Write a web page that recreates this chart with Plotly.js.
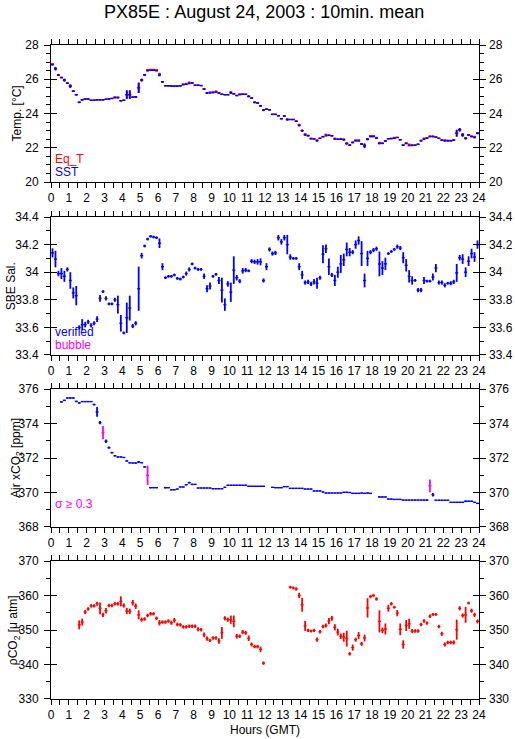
<!DOCTYPE html>
<html>
<head>
<meta charset="utf-8">
<script src="https://cdn.plot.ly/plotly-3.0.1.min.js"></script>
<style>html,body{margin:0;padding:0;background:#fff;}#chart{width:515px;height:739px;}</style>
</head>
<body>
<div id="chart"></div>
<script>
// 10-minute mean values, 144 slots per day (slot k covers k*10 .. k*10+10 min)
const sst = [
26.85,26.62,26.25,26.1,25.95,25.77, 25.6,25.3,25.1,24.65,24.8,24.85,
24.85,24.77,24.77,24.8,24.8,24.8, 24.83,24.85,24.88,24.92,24.92,24.75,
24.77,25.1,25.1,24.95,24.97,25.5, 25.95,26.25,26.5,26.52,26.52,26.5,
26.25,25.85,25.62,25.62,25.6,25.6, 25.6,25.62,25.68,25.7,25.75,25.78,
25.65,25.65,25.63,25.43,25.2,25.2, 25.22,25.25,25.2,25.12,25.1,25.1,
25.2,25.15,25.05,25.1,25.12,25.12, 25.0,24.9,24.65,24.62,24.45,24.2,
24.25,24.22,23.95,23.95,23.87,23.7, 23.85,23.65,23.65,23.65,23.55,23.3,
23.0,22.75,22.7,22.52,22.52,22.4, 22.55,22.65,22.7,22.72,22.7,22.5,
22.5,22.5,22.46,22.25,22.15,22.3, 22.4,22.4,22.22,22.1,22.5,22.65,
22.65,22.55,22.25,22.25,22.4,22.53, 22.53,22.55,22.6,22.47,22.15,22.25,
22.13,22.13,22.15,22.2,22.4,22.5, 22.55,22.65,22.65,22.62,22.55,22.45,
22.4,22.4,22.4,22.45,22.85,23.05, 22.75,22.55,22.75,22.65,22.6,22.85];
const sstErr = [
0.04,0.1,0.04,0.04,0.08,0.04, 0.1,0.04,0.04,0.04,0.04,0.03,
0.03,0.03,0.03,0.03,0.03,0.03, 0.03,0.03,0.03,0.03,0.04,0.04,
0.03,0.25,0.25,0.04,0.05,0.3, 0.08,0.04,0.04,0.03,0.03,0.04,
0.08,0.04,0.03,0.03,0.03,0.03, 0.03,0.03,0.03,0.03,0.04,0.04,
0.03,0.03,0.03,0.05,0.05,0.03, 0.03,0.03,0.03,0.03,0.03,0.03,
0.06,0.03,0.03,0.03,0.03,0.03, 0.05,0.03,0.05,0.04,0.05,0.06,
0.04,0.04,0.03,0.03,0.03,0.04, 0.04,0.06,0.03,0.03,0.04,0.05,
0.06,0.05,0.04,0.03,0.03,0.04, 0.03,0.03,0.03,0.03,0.03,0.03,
0.03,0.03,0.04,0.06,0.04,0.04, 0.03,0.03,0.05,0.12,0.06,0.03,
0.03,0.03,0.05,0.03,0.04,0.03, 0.03,0.03,0.03,0.03,0.04,0.04,
0.03,0.03,0.03,0.03,0.04,0.03, 0.03,0.03,0.03,0.03,0.03,0.03,
0.03,0.03,0.03,0.03,0.2,0.1, 0.1,0.06,0.05,0.04,0.05,0.06];
const eqT = [
26.9,26.62,26.25,26.1,25.95,25.77, 25.6,25.3,25.1,24.65,24.8,24.85,
24.85,24.77,24.77,24.8,24.8,24.8, 24.83,24.85,24.88,24.97,24.95,24.75,
24.77,25.1,25.1,24.95,24.97,25.5, 25.95,26.25,26.56,26.57,26.57,26.55,
26.3,25.85,25.62,25.62,25.6,25.6, 25.6,25.62,25.72,25.75,25.82,25.8,
25.65,25.65,25.63,25.43,25.2,25.24, 25.26,25.3,25.2,25.12,25.1,25.1,
25.25,25.15,25.05,25.14,25.14,25.12, 25.0,24.9,24.65,24.62,24.45,24.2,
24.25,24.22,23.95,23.95,23.87,23.7, 23.85,23.65,23.65,23.65,23.55,23.35,
23.0,22.8,22.72,22.55,22.52,22.45, 22.55,22.65,22.78,22.75,22.7,22.55,
22.5,22.53,22.5,22.25,22.15,22.33, 22.45,22.45,22.22,22.15,22.5,22.7,
22.7,22.6,22.3,22.28,22.4,22.53, 22.55,22.6,22.6,22.47,22.15,22.28,
22.2,22.17,22.15,22.2,22.43,22.55, 22.58,22.68,22.68,22.62,22.55,22.45,
22.45,22.43,22.43,22.45,22.85,23.05, 22.75,22.55,22.75,22.68,22.65,22.85];

const sal = [
34.14,34.095,33.99,33.99,33.97,34.02, 33.94,33.85,33.83,33.60,33.62,33.62,
33.64,33.615,33.63,33.66,33.81,33.86, 33.81,33.77,33.77,33.80,33.765,33.63,
33.56,33.67,33.74,33.61,33.63,33.88, 34.12,34.19,34.24,34.26,34.255,34.25,
34.21,34.04,33.96,33.97,33.97,33.98, 33.955,33.95,33.965,33.99,34.02,34.06,
34.03,34.02,34.02,33.97,33.88,33.90, 33.97,33.985,33.94,33.87,33.765,33.915,
33.855,34.015,33.96,33.935,34.01,34.015, 34.01,34.08,34.075,34.075,34.075,33.94,
34.04,34.165,34.135,34.14,34.25,34.22, 34.25,34.2,34.11,34.1,34.1,34.04,
33.98,33.925,33.93,33.915,33.93,33.92, 33.96,34.13,34.17,34.04,33.98,33.94,
34.0,34.06,34.09,34.165,34.145,34.145, 34.2,34.23,34.135,33.94,34.1,34.145,
34.16,34.17,34.06,34.03,34.06,34.135, 34.15,34.165,34.185,34.175,34.105,34.05,
33.97,33.94,33.94,33.87,33.87,33.94, 33.935,33.935,33.965,34.03,33.925,33.925,
33.905,33.92,33.92,33.93,33.995,34.105, 34.095,34.0,34.08,34.135,34.11,34.2];
const salErr = [
0.033,0.06,0.02,0.04,0.04,0.015, 0.06,0.04,0.07,0.015,0.04,0.02,
0.015,0.015,0.015,0.02,0.025,0.01, 0.015,0.01,0.01,0.015,0.065,0.06,
0.01,0.11,0.09,0.015,0.015,0.16, 0.02,0.01,0.01,0.01,0.01,0.01,
0.035,0.025,0.01,0.01,0.01,0.01, 0.01,0.01,0.01,0.015,0.015,0.01,
0.01,0.01,0.01,0.02,0.025,0.025, 0.01,0.01,0.025,0.09,0.045,0.02,
0.07,0.1,0.02,0.015,0.02,0.015, 0.01,0.015,0.015,0.02,0.025,0.015,
0.025,0.015,0.015,0.015,0.02,0.02, 0.02,0.07,0.02,0.01,0.01,0.025,
0.03,0.015,0.015,0.015,0.02,0.04, 0.015,0.065,0.03,0.06,0.015,0.04,
0.04,0.065,0.045,0.05,0.03,0.015, 0.03,0.03,0.09,0.05,0.055,0.015,
0.015,0.015,0.09,0.05,0.045,0.01, 0.01,0.01,0.015,0.015,0.04,0.045,
0.045,0.03,0.01,0.015,0.015,0.025, 0.01,0.01,0.025,0.03,0.015,0.015,
0.015,0.01,0.015,0.015,0.065,0.02, 0.035,0.035,0.035,0.035,0.035,0.03];

const air = [
null,null,null,375.25,375.34,375.48, 375.48,375.48,375.28,375.19,375.27,375.27,
375.27,375.27,375.1,374.67,374.05,373.47, 372.97,372.6,372.31,372.13,372.06,372.06,
372.03,371.83,371.72,371.71,371.71,371.77, 371.73,371.48,370.99,370.28,370.28,370.28,
null,null,370.28,370.28,370.16,370.16, 370.2,370.32,370.32,370.45,370.57,370.47,
370.47,370.26,370.26,370.26,370.26,370.26, 370.22,370.22,370.22,370.22,370.3,370.42,
370.42,370.42,370.42,370.42,370.42,370.42, 370.36,370.36,370.36,370.36,370.36,370.36,
null,null,370.3,370.28,370.28,370.28, 370.34,370.34,370.24,370.24,370.24,370.24,
370.24,370.2,370.2,370.2,370.09,370.09, 370.09,370.03,369.97,369.97,369.97,369.97,
369.97,369.97,370.01,370.01,370.0,369.95, 369.95,369.95,369.97,369.95,369.97,369.95,
null,null,369.74,369.74,369.74,369.62, 369.62,369.6,369.6,369.6,369.56,369.56,
369.56,369.56,369.56,369.56,369.56,369.56, 369.56,370.39,369.87,369.55,369.55,369.55,
369.55,369.55,369.43,369.43,369.43,369.43, 369.43,369.49,369.49,369.49,369.43,369.37];
const airErr = [
0,0,0,0.04,0.04,0.04, 0.04,0.04,0.04,0.04,0.03,0.03,
0.03,0.03,0.05,0.28,0.1,0.39, 0.1,0.06,0.05,0.04,0.04,0.03,
0.03,0.04,0.03,0.03,0.04,0.06, 0.04,0.04,0.56,0.04,0.03,0.03,
0,0,0.05,0.03,0.04,0.03, 0.03,0.03,0.03,0.04,0.05,0.04,
0.03,0.03,0.03,0.03,0.03,0.03, 0.03,0.03,0.03,0.03,0.03,0.03,
0.03,0.03,0.03,0.03,0.03,0.03, 0.03,0.03,0.03,0.03,0.03,0.03,
0,0,0.03,0.03,0.03,0.03, 0.03,0.03,0.03,0.03,0.03,0.03,
0.03,0.03,0.03,0.03,0.03,0.03, 0.03,0.03,0.03,0.03,0.03,0.03,
0.03,0.03,0.03,0.04,0.03,0.03, 0.03,0.03,0.03,0.03,0.03,0.03,
0,0,0.04,0.04,0.03,0.03, 0.03,0.03,0.03,0.03,0.03,0.03,
0.03,0.03,0.04,0.03,0.03,0.04, 0.05,0.37,0.1,0.03,0.03,0.03,
0.03,0.03,0.03,0.03,0.03,0.03, 0.03,0.05,0.04,0.04,0.03,0.03];
const sigmaLimit = 0.3;

const pco2 = [
null,null,null,null,null,null, null,null,null,351.5,352.3,355.2,
356.1,357.0,357.0,357.6,356.3,354.4, 355.6,357.1,357.1,357.6,357.6,358.3,
357.1,355.5,355.4,357.9,356.9,354.4, 353.0,353.2,354.2,354.7,354.7,353.4,
352.1,352.3,352.3,352.6,352.1,352.8, 351.6,351.5,350.9,350.9,351.1,351.1,
351.1,350.2,350.1,348.6,347.5,347.0, 347.7,347.7,346.8,349.2,353.4,353.0,
353.0,352.5,348.2,348.2,349.4,349.2, 347.6,345.8,345.2,345.2,344.4,340.4,
null,null,null,null,null,null, null,null,362.4,362.2,361.9,360.0,
357.3,351.2,349.9,349.7,349.9,347.2, 349.5,351.0,351.3,352.6,353.4,350.8,
349.4,348.2,347.9,347.5,343.1,344.9, 347.2,348.4,346.0,347.7,356.4,359.7,
360.0,359.0,352.5,349.9,350.3,356.3, 357.6,356.6,354.9,350.2,345.8,351.3,
351.8,349.7,349.7,349.7,351.6,352.6, 352.0,354.0,354.5,354.5,351.0,348.9,
345.8,346.4,346.4,346.4,350.1,356.3, 354.2,354.4,357.8,355.6,354.4,352.5];
const pco2Err = [
0,0,0,0,0,0, 0,0,0,1.3,1.0,0.6,
0.5,0.5,0.5,0.6,1.7,0.6, 0.8,0.5,0.5,0.5,0.5,1.45,
0.6,0.9,0.8,0.8,0.8,1.3, 0.6,0.5,0.5,0.5,0.5,0.5,
0.8,0.5,0.5,0.5,0.6,0.7, 0.5,0.5,0.5,0.5,0.5,0.5,
0.5,0.6,0.5,0.7,0.6,0.5, 0.5,0.5,0.8,1.7,0.6,0.6,
1.2,1.7,0.7,0.5,0.6,0.6, 0.8,0.6,0.5,0.5,0.8,0.5,
0,0,0,0,0,0, 0,0,0.4,0.4,0.5,0.8,
2.0,1.45,0.5,0.4,0.5,0.6, 0.5,0.5,0.6,0.9,0.7,0.9,
1.0,0.8,1.3,2.3,0.5,0.9, 0.6,1.0,0.6,1.0,2.8,0.5,
0.4,0.5,3.2,0.8,1.6,1.0, 0.5,0.4,0.9,1.7,1.2,1.6,
1.45,0.6,0.5,0.5,0.5,0.5, 0.5,0.5,0.4,0.4,0.5,0.6,
0.6,0.5,0.5,0.6,2.9,0.6, 0.6,2.3,0.4,0.6,0.6,0.6];

const hourTicks = [0,1,2,3,4,5,6,7,8,9,10,11,12,13,14,15,16,17,18,19,20,21,22,23,24];
const ranges = {temp: [20, 28], sal: [33.4, 34.4], air: [368, 376], pco2: [330, 370]};

// slot centres in hours
const hours = sst.map((_, k) => k / 6 + 1 / 12);

const BLUE = '#0000ff', RED = '#ff0000', MAG = '#ff00ff';
const HALF = 1 / 12;

function crossTrace(y, err, color, xa, ya) {
  return {
    type: 'scatter', mode: 'markers', x: hours, y: y,
    xaxis: xa, yaxis: ya, showlegend: false, hoverinfo: 'skip',
    marker: {size: 1, color: 'rgba(0,0,0,0)'},
    error_x: {type: 'constant', value: HALF, color: color, thickness: 1.4, width: 0},
    error_y: {type: 'data', array: err, color: color, thickness: 1.8, width: 0}
  };
}
// invisible trace so the right-hand mirror axis gets drawn
function anchorTrace(xa, ya, r) {
  return {type: 'scatter', mode: 'markers', x: [0, 24], y: r, xaxis: xa, yaxis: ya,
          showlegend: false, hoverinfo: 'skip', marker: {size: 1, color: 'rgba(0,0,0,0)'}};
}

const airOk = air.map((v, i) => airErr[i] >= sigmaLimit ? null : v);
const airBad = air.map((v, i) => airErr[i] >= sigmaLimit ? v : null);

const data = [
  crossTrace(eqT, sstErr, RED, 'x', 'y'),
  crossTrace(sst, sstErr, BLUE, 'x', 'y'),
  crossTrace(sal, salErr, BLUE, 'x2', 'y2'),
  crossTrace(airOk, airErr, BLUE, 'x3', 'y3'),
  crossTrace(airBad, airErr, MAG, 'x3', 'y3'),
  crossTrace(pco2, pco2Err, RED, 'x4', 'y4'),
  anchorTrace('x', 'y5', ranges.temp),
  anchorTrace('x2', 'y6', ranges.sal),
  anchorTrace('x3', 'y7', ranges.air),
  anchorTrace('x4', 'y8', ranges.pco2)
];

const FONT = 'Liberation Sans, Arial, Helvetica, sans-serif';
const tickFont = {family: FONT, size: 12, color: '#000'};

function xAxis(anchor) {
  return {
    anchor: anchor, range: [0, 24], tickvals: hourTicks, ticktext: hourTicks.map(String),
    showline: true, linecolor: '#000', linewidth: 1, mirror: 'ticks',
    ticks: 'outside', ticklen: 5, tickcolor: '#000', tickwidth: 1,
    minor: {dtick: 0.5, tick0: 0, ticks: 'outside', ticklen: 5, tickcolor: '#000', tickwidth: 1},
    showgrid: false, zeroline: false, tickfont: tickFont, fixedrange: true
  };
}
function yLeft(domain, range, dtick, mdtick, anchor) {
  return {
    domain: domain, range: range, dtick: dtick, tick0: range[0], anchor: anchor,
    showline: true, linecolor: '#000', linewidth: 1, mirror: 'ticks',
    ticks: 'outside', ticklen: 6, tickcolor: '#000', tickwidth: 1,
    minor: {dtick: mdtick, ticks: 'outside', ticklen: 4, tickcolor: '#000', tickwidth: 1},
    showgrid: false, zeroline: false, tickfont: tickFont, ticklabelstandoff: 3
  };
}
function yRight(overlay, range, dtick, anchor) {
  return {
    overlaying: overlay, side: 'right', range: range, dtick: dtick, tick0: range[0], anchor: anchor,
    showline: false, mirror: 'ticks', ticks: 'inside', ticklen: 6, tickcolor: '#000', tickwidth: 1,
    showgrid: false, zeroline: false, tickfont: tickFont, ticklabelstandoff: 9
  };
}

const D1 = [0.7905, 1], D2 = [0.526, 0.737], D3 = [0.263, 0.474], D4 = [0, 0.211];

const ann = (text, x, y, xref, yref, color) => ({
  text: text, x: x, y: y, xref: xref, yref: yref, showarrow: false,
  xanchor: 'left', yanchor: 'middle', font: {family: FONT, size: 12, color: color}
});

const ytitle = (text, domain, xp) => ({
  text: text, x: xp, y: (domain[0] + domain[1]) / 2, xref: 'paper', yref: 'paper',
  showarrow: false, textangle: -90, xanchor: 'center', yanchor: 'middle',
  font: {family: FONT, size: 12, color: '#000'}
});

const layout = {
  width: 515, height: 739,
  margin: {l: 51, r: 36, t: 45, b: 40},
  paper_bgcolor: '#fff', plot_bgcolor: '#fff',
  font: {family: FONT, color: '#000'},
  showlegend: false,
  title: {text: 'PX85E : August 24, 2003 : 10min. mean', x: 0.513, xanchor: 'center',
          y: 0.984, yanchor: 'middle', font: {family: FONT, size: 18, color: '#000'}},
  xaxis: xAxis('y'), xaxis2: xAxis('y2'), xaxis3: xAxis('y3'), xaxis4: xAxis('y4'),
  yaxis: yLeft(D1, ranges.temp, 2, 0.5, 'x'),
  yaxis2: yLeft(D2, ranges.sal, 0.2, 0.1, 'x2'),
  yaxis3: yLeft(D3, ranges.air, 2, 1, 'x3'),
  yaxis4: yLeft(D4, ranges.pco2, 10, 5, 'x4'),
  yaxis5: yRight('y', ranges.temp, 2, 'x'),
  yaxis6: yRight('y2', ranges.sal, 0.2, 'x2'),
  yaxis7: yRight('y3', ranges.air, 2, 'x3'),
  yaxis8: yRight('y4', ranges.pco2, 10, 'x4'),
  annotations: [
    ytitle('Temp. [°C]', D1, -0.0796),
    ytitle('SBE Sal.', D2, -0.093),
    ytitle('Air xCO<sub>2</sub> [ppm]', D3, -0.0796),
    ytitle('ρCO<sub>2</sub> [μ atm]', D4, -0.086),
    ann('Eq_T', 0.1, 21.33, 'x', 'y', RED),
    ann('SST', 0.1, 20.57, 'x', 'y', BLUE),
    ann('verified', 0.1, 33.565, 'x2', 'y2', BLUE),
    ann('bubble', 0.1, 33.47, 'x2', 'y2', MAG),
    ann('σ ≥ 0.3', 0.1, 369.32, 'x3', 'y3', MAG),
    {text: 'Hours (GMT)', x: 0.5, y: -0.0474, xref: 'paper', yref: 'paper', showarrow: false,
     xanchor: 'center', yanchor: 'middle', font: {family: FONT, size: 12, color: '#000'}}
  ]
};

Plotly.newPlot('chart', data, layout, {staticPlot: true, displayModeBar: false});
</script>
</body>
</html>
